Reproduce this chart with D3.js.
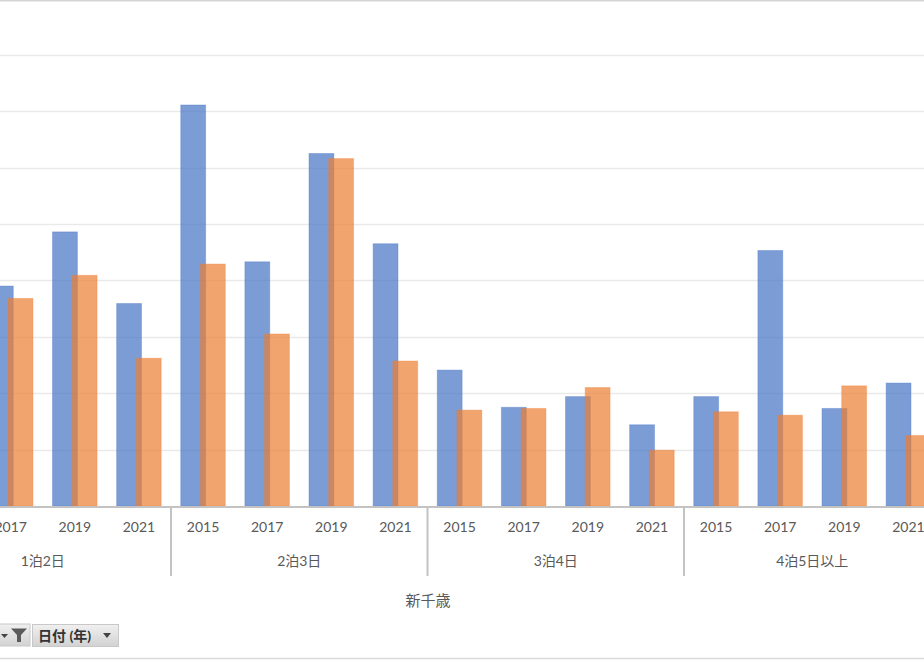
<!DOCTYPE html>
<html>
<head>
<meta charset="utf-8">
<script src="https://cdn.jsdelivr.net/npm/d3@7"></script>
<style>
  body { margin: 0; background: #fff; overflow: hidden; }
  text { font-family: Lato, "Noto Sans CJK JP", sans-serif; }
</style>
</head>
<body>
<script>
// data (gridline step taken as 10)
var groups = ["1泊2日", "2泊3日", "3泊4日", "4泊5日以上"];
var years = ["2015", "2017", "2019", "2021"];
var seriesNames = ["A", "B"];
// blue series, per group then year (1泊2日 2015 is cut off in the picture)
var blueValues = [
  [null, 39.0, 48.6, 35.9],
  [71.1, 43.3, 62.5, 46.5],
  [24.1, 17.5, 19.4, 14.4],
  [19.4, 45.3, 17.3, 21.8]
];
// orange series
var orangeValues = [
  [null, 36.8, 40.9, 26.2],
  [42.9, 30.5, 61.6, 25.7],
  [17.0, 17.3, 21.0, 9.9],
  [16.7, 16.1, 21.3, 12.5]
];
var yTicks = [10, 20, 30, 40, 50, 60, 70, 80];
var axisTitle = "新千歳";
var filterLabel = "日付 (年)";

var width = 924, height = 660;
var svg = d3.select("body").append("svg")
  .attr("width", width)
  .attr("height", height);

var baseY = 506;

var x0 = d3.scaleBand()
  .domain(groups)
  .range([-85.5, 940.5]);

var x1 = d3.scaleBand()
  .domain(years)
  .range([0, x0.bandwidth()]);

var catW = x1.bandwidth();
var barW = catW * 0.388;
var xs = d3.scaleOrdinal()
  .domain(seriesNames)
  .range([catW * 0.152, catW * 0.459]);

var y = d3.scaleLinear()
  .domain([0, 90])
  .range([baseY, baseY - 9 * 56.4]);

// gridlines
svg.append("g")
  .selectAll("line")
  .data(yTicks)
  .join("line")
  .attr("x1", 0)
  .attr("x2", width)
  .attr("y1", d => Math.round(y(d)) + 0.5)
  .attr("y2", d => Math.round(y(d)) + 0.5)
  .attr("stroke", "#e9e9e9")
  .attr("stroke-width", 1.3);

// bars
var colors = { A: "#4472C4", B: "#ED7D31" };
var rows = [];
groups.forEach(function(g, gi) {
  years.forEach(function(yr, yi) {
    rows.push({ g: g, yr: yr, s: "A", v: blueValues[gi][yi] });
    rows.push({ g: g, yr: yr, s: "B", v: orangeValues[gi][yi] });
  });
});
rows = rows.filter(d => d.v != null);

svg.append("g")
  .selectAll("rect")
  .data(rows)
  .join("rect")
  .attr("x", d => x0(d.g) + x1(d.yr) + xs(d.s))
  .attr("y", d => y(d.v))
  .attr("width", barW)
  .attr("height", d => baseY - y(d.v))
  .attr("fill", d => colors[d.s])
  .attr("fill-opacity", 0.7)
  .attr("stroke", d => colors[d.s])
  .attr("stroke-opacity", 0.35)
  .attr("stroke-width", 1);

// category axis line
svg.append("line")
  .attr("x1", 0).attr("x2", width)
  .attr("y1", baseY + 1).attr("y2", baseY + 1)
  .attr("stroke", "#c3c3c3")
  .attr("stroke-width", 2);

// group separators
svg.append("g")
  .selectAll("line")
  .data(groups.slice(1))
  .join("line")
  .attr("x1", d => x0(d))
  .attr("x2", d => x0(d))
  .attr("y1", baseY)
  .attr("y2", 576)
  .attr("stroke", "#c3c3c3")
  .attr("stroke-width", 2);

// year labels
var yearLabels = [];
groups.forEach(g => years.forEach(yr => yearLabels.push({ g: g, yr: yr })));
svg.append("g")
  .selectAll("text")
  .data(yearLabels)
  .join("text")
  .attr("x", d => x0(d.g) + x1(d.yr) + catW / 2)
  .attr("y", 532)
  .attr("text-anchor", "middle")
  .attr("font-size", 14)
  .attr("fill", "#595959")
  .text(d => d.yr);

// group labels
svg.append("g")
  .selectAll("text")
  .data(groups)
  .join("text")
  .attr("x", d => x0(d) + x0.bandwidth() / 2)
  .attr("y", 566)
  .attr("text-anchor", "middle")
  .attr("font-size", 14)
  .attr("fill", "#595959")
  .text(d => d);

// axis title
svg.append("text")
  .attr("x", 428)
  .attr("y", 606)
  .attr("text-anchor", "middle")
  .attr("font-size", 15)
  .attr("fill", "#595959")
  .text(axisTitle);

// chart border
svg.append("line")
  .attr("x1", 0).attr("x2", width)
  .attr("y1", 0.5).attr("y2", 0.5)
  .attr("stroke", "#d4d4d4").attr("stroke-width", 2);
svg.append("line")
  .attr("x1", 0).attr("x2", width)
  .attr("y1", 658.5).attr("y2", 658.5)
  .attr("stroke", "#d9d9d9").attr("stroke-width", 1.5);

// pivot field buttons
var grad = svg.append("defs").append("linearGradient")
  .attr("id", "btn").attr("x1", 0).attr("x2", 0).attr("y1", 0).attr("y2", 1);
grad.append("stop").attr("offset", "0%").attr("stop-color", "#f0f0f0");
grad.append("stop").attr("offset", "100%").attr("stop-color", "#d2d2d2");

// partial button on the left
svg.append("rect")
  .attr("x", -20).attr("y", 624).attr("width", 50).attr("height", 22)
  .attr("fill", "url(#btn)").attr("stroke", "#c8c8c8");
svg.append("path")
  .attr("d", "M1,634 L8,634 L4.5,638 Z")
  .attr("fill", "#444");
svg.append("path")
  .attr("d", "M11,628.5 L27,628.5 L21,635 L21,642 L17,642 L17,635 Z")
  .attr("fill", "#5a5a5a");

// 日付 (年) button
svg.append("rect")
  .attr("x", 32.5).attr("y", 624.5).attr("width", 86).attr("height", 22)
  .attr("fill", "url(#btn)").attr("stroke", "#c8c8c8");
svg.append("text")
  .attr("x", 38).attr("y", 641)
  .attr("font-size", 14)
  .attr("font-weight", "bold")
  .attr("fill", "#333")
  .text(filterLabel);
svg.append("path")
  .attr("d", "M103,633 L111,633 L107,638 Z")
  .attr("fill", "#444");
</script>
</body>
</html>
